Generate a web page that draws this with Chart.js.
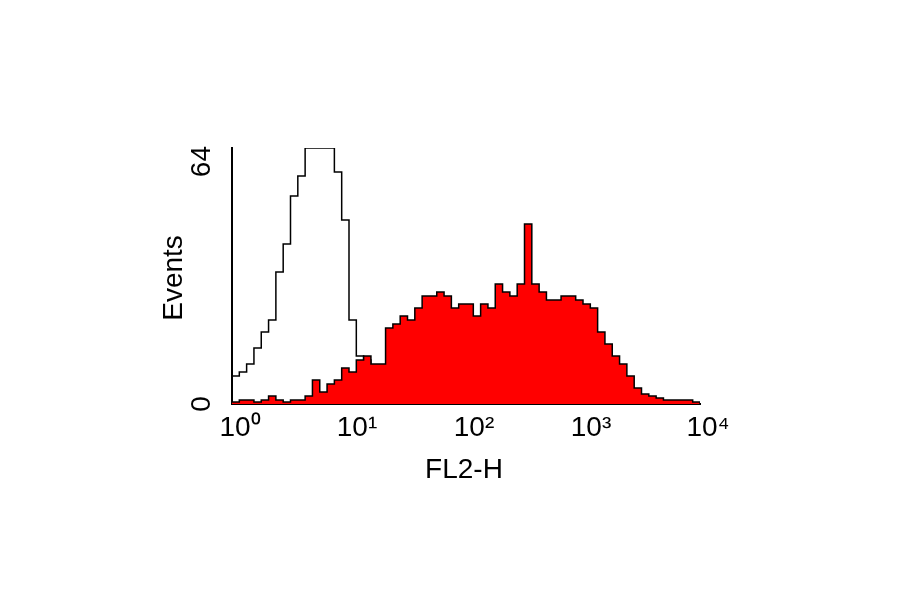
<!DOCTYPE html>
<html>
<head>
<meta charset="utf-8">
<script src="https://cdn.jsdelivr.net/npm/chart.js@4"></script>
<style>
  body { margin: 0; background: #fff; }
  #wrap { width: 900px; height: 594px; }
</style>
</head>
<body>
<div id="wrap"><canvas id="c" width="900" height="594"></canvas></div>
<script>
// channel index (0..256, 4 decades) per point, every 4 channels
const channels = [0,4,8,12,16,20,24,28,32,36,40,44,48,52,56,60,64,68,72,76,80,84,88,92,96,100,104,108,112,116,120,124,128,132,136,140,144,148,152,156,160,164,168,172,176,180,184,188,192,196,200,204,208,212,216,220,224,228,232,236,240,244,248,252,256];

// isotype control (open histogram)
const control = [7,8,10,14,18,21,33,40,52,57,64,64,64,64,58,46,21,12,11,8,5,2,1,0.5,0,0,0,0,0,0,0,0,0,0,0,0,0,0,0,0,0,0,0,0,0,0,0,0,0,0,0,0,0,0,0,0,0,0,0,0,0,0,0,0,0];

// stained sample (red filled)
const stained = [0.5,1,1,0.5,1,2,1,0.5,1,1,2,6,3,5,6,9,8,11,12,10,10,19,20,22,21,24,27,27,28,27,24,25,25,22,25,24,30,28,27,30,45,30,28,26,26,27,27,26,25,24,18,15,12,10,7,4,2.5,2,1.5,1,1,1,1,0.5,0];

const decadeLabels = ["10\u2070","10\u00b9","10\u00b2","10\u00b3","10\u2074"];

const textPlugin = {
  id: "texts",
  afterDraw(chart) {
    const { ctx, chartArea: a, scales } = chart;
    ctx.save();
    ctx.fillStyle = "#000";
    ctx.font = "28px 'Liberation Sans', Arial, sans-serif";
    ctx.textAlign = "center";
    ctx.textBaseline = "top";
    decadeLabels.forEach((l, i) => {
      ctx.fillText(l, scales.x.getPixelForValue(i * 64) + 8, a.bottom + 10);
    });
    ctx.fillText("FL2-H", (a.left + a.right) / 2 - 2, a.bottom + 52);
    // rotated y labels
    ctx.save();
    ctx.translate(a.left - 30, scales.y.getPixelForValue(0));
    ctx.rotate(-Math.PI / 2);
    ctx.textAlign = "center";
    ctx.textBaseline = "middle";
    ctx.fillText("0", 0, 0);
    ctx.restore();
    ctx.save();
    ctx.translate(a.left - 30, scales.y.getPixelForValue(64) - 2);
    ctx.rotate(-Math.PI / 2);
    ctx.textAlign = "right";
    ctx.textBaseline = "middle";
    ctx.fillText("64", 0, 0);
    ctx.restore();
    ctx.save();
    ctx.translate(a.left - 58, (a.top + a.bottom) / 2 + 2);
    ctx.rotate(-Math.PI / 2);
    ctx.textAlign = "center";
    ctx.textBaseline = "middle";
    ctx.fillText("Events", 0, 0);
    ctx.restore();
    ctx.restore();
  }
};

new Chart(document.getElementById("c"), {
  type: "line",
  data: {
    labels: channels,
    datasets: [
      {
        data: stained,
        stepped: true,
        fill: "origin",
        backgroundColor: "#ff0000",
        borderColor: "#000",
        borderWidth: 1.5,
        pointRadius: 0
      },
      {
        data: control,
        stepped: true,
        fill: false,
        borderColor: "#000",
        borderWidth: 1.5,
        pointRadius: 0
      }
    ]
  },
  options: {
    responsive: false,
    animation: false,
    layout: { padding: { left: 232, right: 200, top: 148, bottom: 190 } },
    plugins: { legend: { display: false }, tooltip: { enabled: false } },
    scales: {
      x: {
        type: "linear", min: 0, max: 256,
        ticks: { display: false, stepSize: 64 },
        grid: { display: false, drawTicks: false },
        border: { color: "#000", width: 2 }
      },
      y: {
        min: 0, max: 64,
        ticks: { display: false, stepSize: 16 },
        grid: { display: false, drawTicks: false },
        border: { color: "#000", width: 2 }
      }
    }
  },
  plugins: [textPlugin]
});
</script>
</body>
</html>
